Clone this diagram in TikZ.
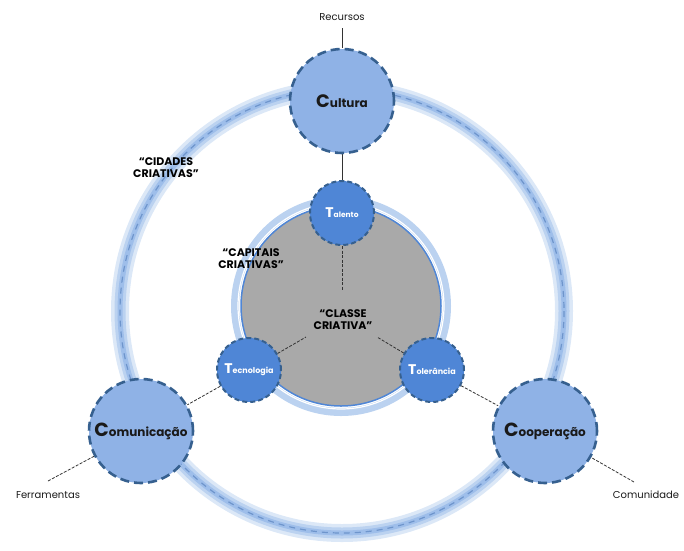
\documentclass[tikz,border=0pt]{standalone}
\usepackage{fontspec}
\setmainfont{Poppins}
\definecolor{bigfill}{HTML}{8FB2E6}
\definecolor{smallfill}{HTML}{4F86D6}
\definecolor{dashc}{HTML}{36608F}
\definecolor{glowA}{HTML}{DCE8F7}
\definecolor{glowB}{HTML}{BBD2F0}
\definecolor{glowC}{HTML}{9EBEEA}
\definecolor{ringline}{HTML}{6E95CC}
\definecolor{grayfill}{HTML}{A9A9A9}
\definecolor{txt}{HTML}{1A1A1A}
\pgfdeclarelayer{rings}
\pgfdeclarelayer{links}
\pgfsetlayers{rings,links,main}
\begin{document}
\begin{tikzpicture}[x=1pt,y=-1pt,
  bignode/.style={circle,fill=bigfill,draw=dashc,line width=2.6pt,dash pattern=on 9pt off 5pt,minimum size=104pt,inner sep=0pt,text=txt,font=\bfseries},
  smallnode/.style={circle,fill=smallfill,draw=dashc,line width=2pt,dash pattern=on 5pt off 3pt,minimum size=64pt,inner sep=0pt,text=white,font=\bfseries},
  lbl/.style={font=\fontsize{10}{11}\selectfont,text=txt},
  quote/.style={font=\bfseries\fontsize{11}{12}\selectfont,align=center,text=black},
  conn/.style={draw=black!80,line width=0.8pt,dash pattern=on 3pt off 1.5pt},
  solidconn/.style={draw=black!80,line width=0.8pt}]
\useasboundingbox (0,0) rectangle (684,550);
\begin{pgfonlayer}{rings}
% big ring
\coordinate (bc) at (342,311);
\draw[glowA,line width=18pt] (bc) circle (222);
\draw[glowB,line width=11pt] (bc) circle (222);
\draw[glowC,line width=5pt] (bc) circle (222);
\draw[ringline,line width=1.2pt,dash pattern=on 6pt off 5pt] (bc) circle (222);
% inner circle
\coordinate (ic) at (341,306);
\draw[glowB,line width=8pt] (ic) circle (106);
\draw[white,line width=1.2pt] (ic) circle (103);
\draw[fill=grayfill,draw=smallfill,line width=1.5pt] (ic) circle (100);
\end{pgfonlayer}
% end points
\coordinate (cT) at (342,290);
\coordinate (cL) at (306,337);
\coordinate (cR) at (377,337);
\coordinate (rec) at (342,28);
\coordinate (fer) at (48,481);
\coordinate (com) at (634,482);
% nodes
\node[bignode] (cult) at (342,101) {\fontsize{18}{18}\selectfont C\fontsize{12}{12}\selectfont ultura};
\node[bignode] (comu) at (141,431) {\fontsize{19}{19}\selectfont C\fontsize{12}{12}\selectfont omunicação};
\node[bignode] (coop) at (545,431) {\fontsize{19}{19}\selectfont C\fontsize{12}{12}\selectfont ooperação};
\node[smallnode] (tal) at (342,213) {\fontsize{14}{14}\selectfont T\fontsize{7.5}{8}\selectfont alento};
\node[smallnode] (tec) at (249,370) {\fontsize{14}{14}\selectfont T\fontsize{8}{8}\selectfont ecnologia};
\node[smallnode] (tol) at (432,370) {\fontsize{14}{14}\selectfont T\fontsize{8}{8}\selectfont olerância};
% connectors
\begin{pgfonlayer}{links}
\draw[solidconn] (rec) -- (cult.north);
\draw[solidconn] (cult.south) -- (tal.north);
\draw[conn] (tal.south) -- (cT);
\draw[conn] (tec) -- (cL);
\draw[conn] (tol) -- (cR);
\draw[conn] (tec) -- (comu);
\draw[conn] (tol) -- (coop);
\draw[conn] (fer) -- (comu);
\draw[conn] (com) -- (coop);
\end{pgfonlayer}
% texts
\node[lbl] (trec) at (342,17) {Recursos};
\node[lbl] (tfer) at (48,495) {Ferramentas};
\node[lbl] (tcom) at (646,495) {Comunidade};
\node[quote] (qcid) at (166,168) {“CIDADES\\CRIATIVAS”};
\node[quote] (qcap) at (251,259) {“CAPITAIS\\CRIATIVAS”};
\node[quote] (qcla) at (343,320) {“CLASSE\\CRIATIVA”};
\end{tikzpicture}
\end{document}
